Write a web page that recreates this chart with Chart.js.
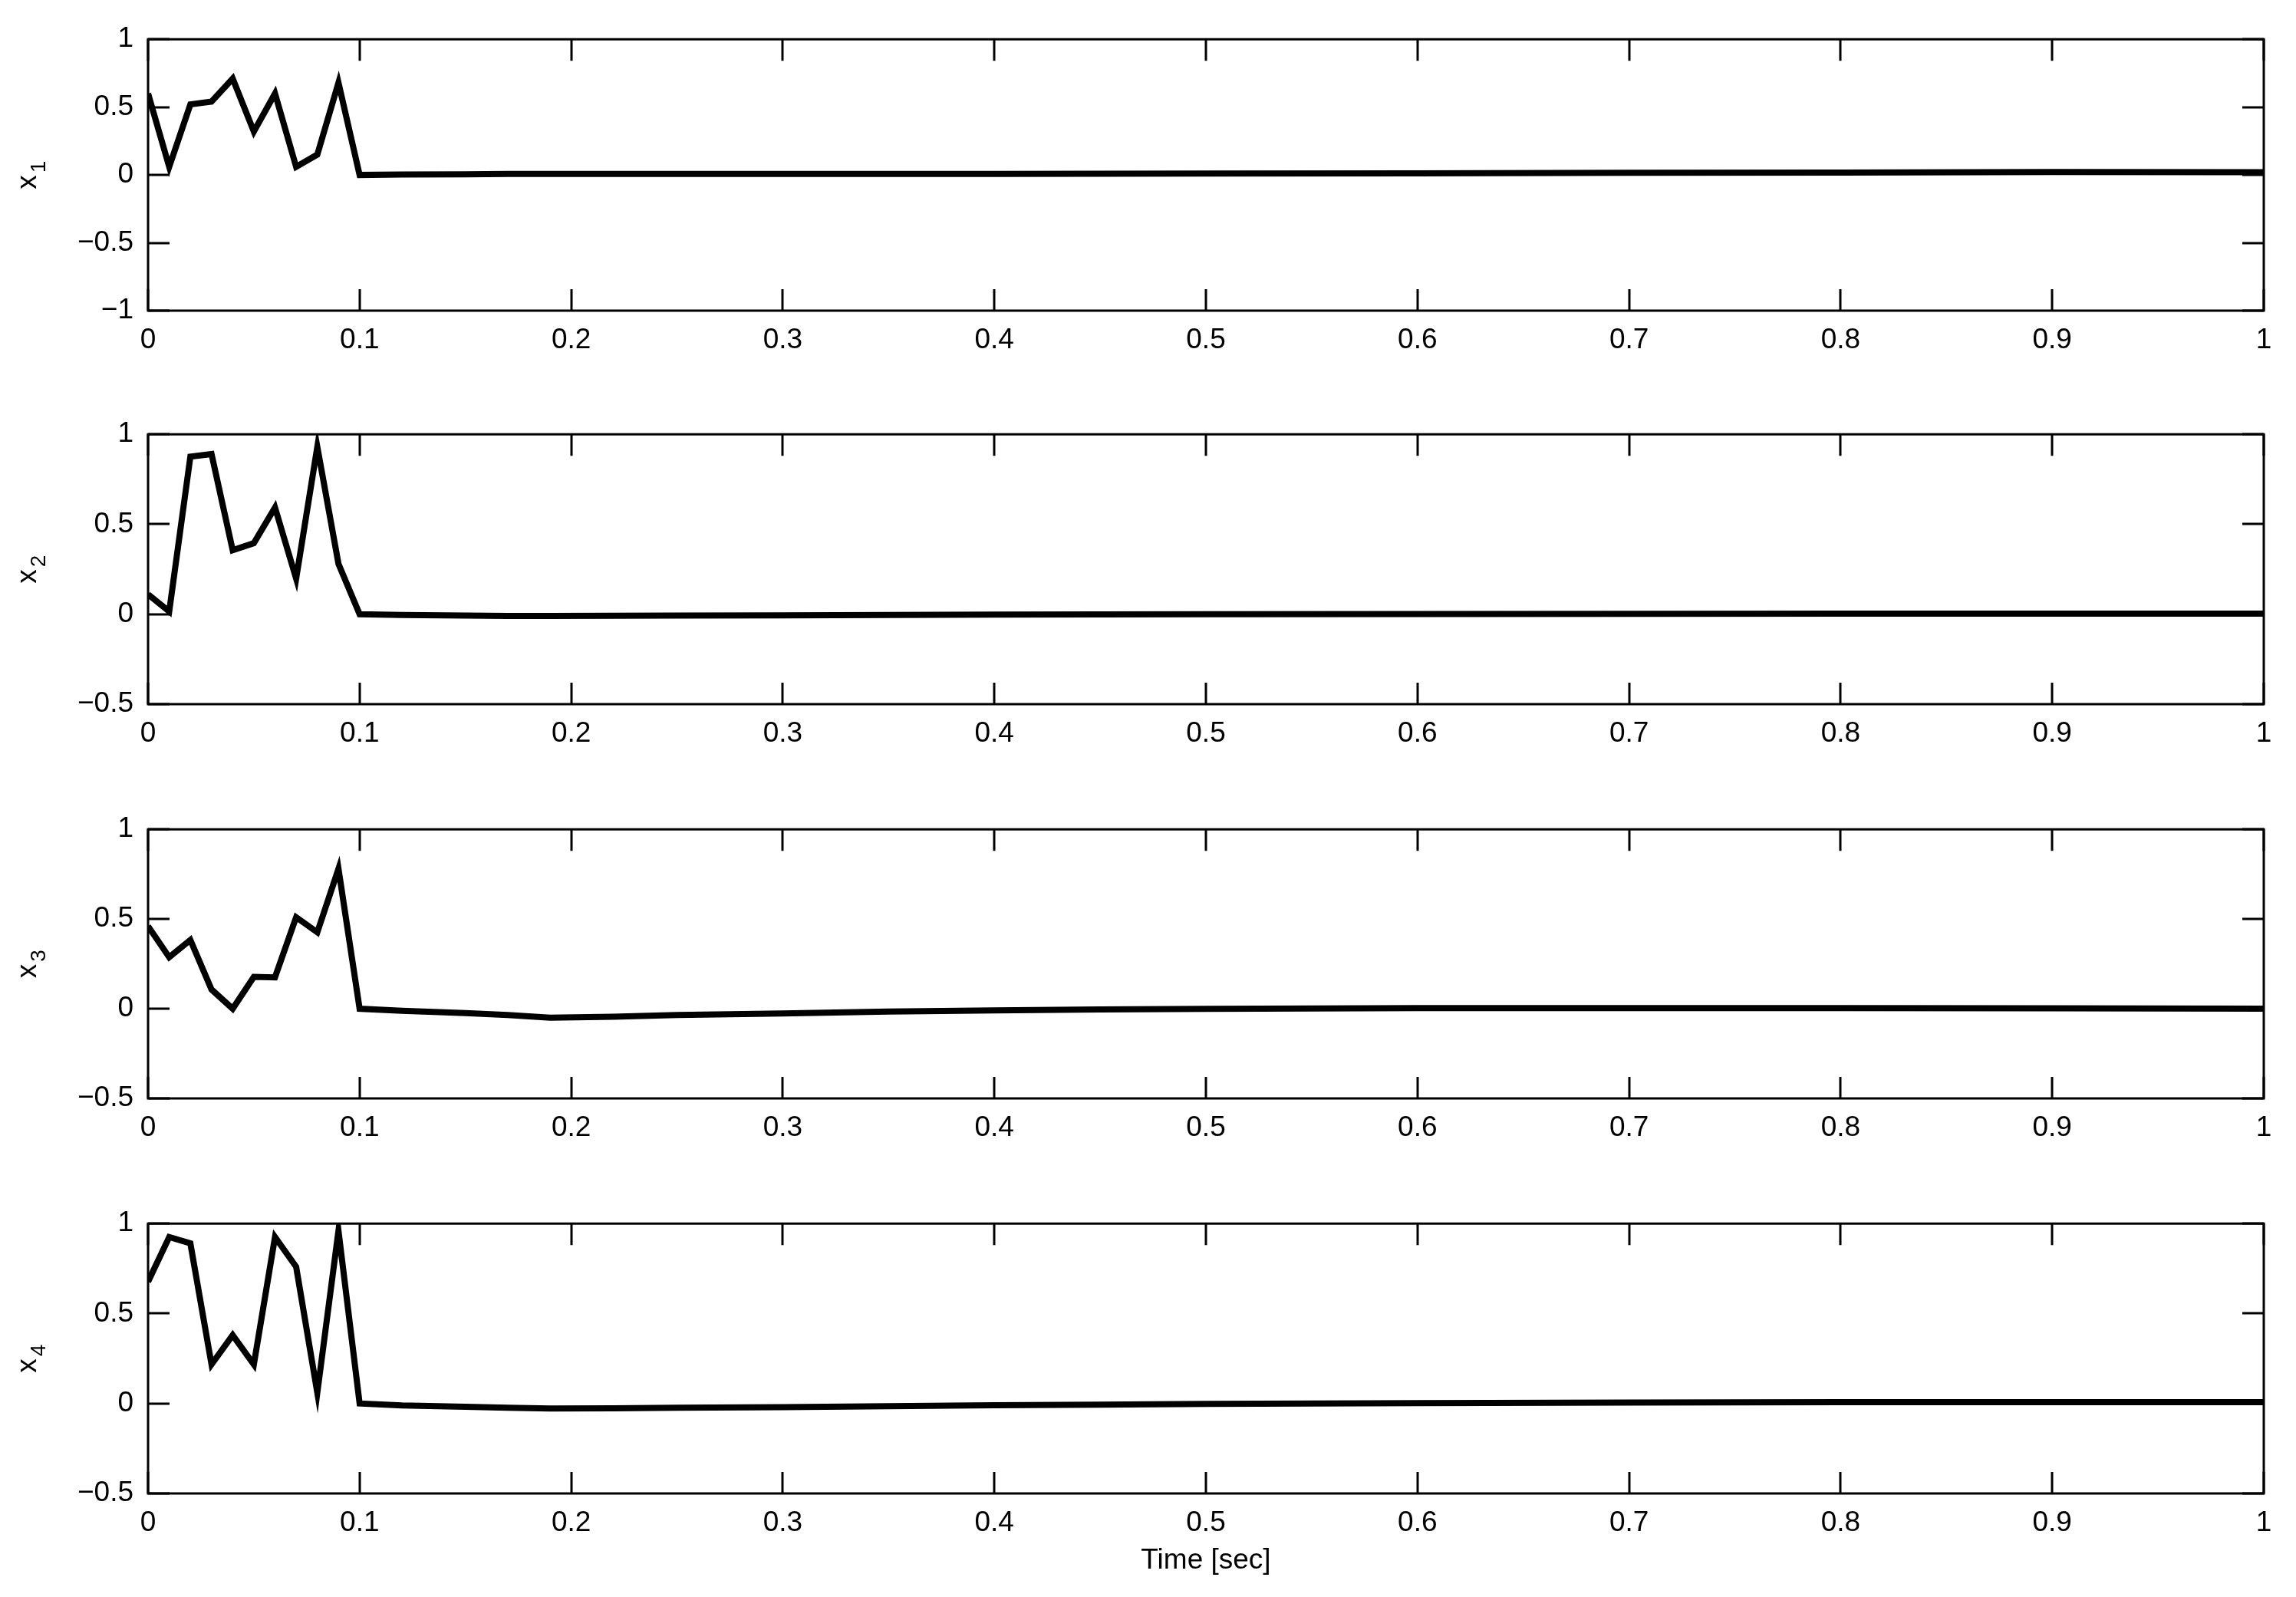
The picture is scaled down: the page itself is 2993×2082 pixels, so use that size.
<!DOCTYPE html>
<html>
<head>
<meta charset="utf-8">
<script src="https://cdn.jsdelivr.net/npm/chart.js@4.4.1/dist/chart.umd.min.js"></script>
<style>
  html, body { margin: 0; padding: 0; background: #fff; }
  body { width: 2993px; height: 2082px; position: relative; overflow: hidden; }
  canvas { position: absolute; left: 0; }
</style>
</head>
<body>
<canvas id="c1"></canvas>
<canvas id="c2"></canvas>
<canvas id="c3"></canvas>
<canvas id="c4"></canvas>
<script>
// ---- data ----
const time = [0, 0.01, 0.02, 0.03, 0.04, 0.05, 0.06, 0.07, 0.08, 0.09, 0.1,
              0.12, 0.15, 0.17, 0.19, 0.22, 0.25, 0.3, 0.35, 0.4, 0.45, 0.5, 0.6, 0.7, 0.8, 0.9, 1.0];
const x1 = [0.60, 0.06, 0.52, 0.54, 0.71, 0.32, 0.60, 0.06, 0.15, 0.68, 0.0,
            0.003, 0.005, 0.007, 0.008, 0.008, 0.008, 0.007, 0.008, 0.008, 0.009, 0.011, 0.012, 0.016, 0.018, 0.022, 0.021];
const x2 = [0.11, 0.015, 0.876, 0.89, 0.356, 0.395, 0.593, 0.198, 0.93, 0.28, 0.0,
            -0.004, -0.008, -0.01, -0.01, -0.009, -0.008, -0.006, -0.004, -0.002, -0.001, 0.0, 0.001, 0.002, 0.003, 0.003, 0.003];
const x3 = [0.46, 0.287, 0.383, 0.107, 0.0, 0.178, 0.175, 0.51, 0.426, 0.78, 0.0,
            -0.011, -0.024, -0.035, -0.05, -0.045, -0.035, -0.026, -0.016, -0.009, -0.004, -0.001, 0.003, 0.004, 0.004, 0.002, 0.0];
const x4 = [0.677, 0.925, 0.89, 0.217, 0.38, 0.217, 0.925, 0.76, 0.06, 0.96, 0.0,
            -0.011, -0.018, -0.024, -0.028, -0.027, -0.024, -0.02, -0.015, -0.01, -0.006, -0.002, 0.002, 0.005, 0.007, 0.007, 0.007];
const seriesNames = ['x', 'x', 'x', 'x'];
const seriesSubs = ['1', '2', '3', '4'];
const yMins = [-1, -0.5, -0.5, -0.5];
const yMaxs = [1, 1, 1, 1];
const xTitle = 'Time [sec]';

// ---- layout ----
const FONT = '"Liberation Sans", Arial, Helvetica, sans-serif';
const FS = 37;
const plotTops = [50, 565, 1080, 1594];
const plotBottoms = [405, 918, 1432, 1947];
const PLOT_LEFT = 193, PLOT_RIGHT = 2951, W = 2993, PADTOP = 40;

const framePlugin = {
  id: 'frame',
  afterDatasetsDraw(chart, args, opts) {
    const { ctx, chartArea: a, scales: { x, y } } = chart;
    ctx.save();
    ctx.strokeStyle = '#000';
    ctx.lineWidth = 3;
    ctx.lineCap = 'butt';
    ctx.strokeRect(a.left, a.top, a.right - a.left, a.bottom - a.top);
    const L = 28;
    ctx.beginPath();
    x.ticks.forEach(t => {
      const px = Math.round(x.getPixelForValue(t.value));
      ctx.moveTo(px, a.bottom); ctx.lineTo(px, a.bottom - L);
      ctx.moveTo(px, a.top); ctx.lineTo(px, a.top + L);
    });
    y.ticks.forEach(t => {
      const py = Math.round(y.getPixelForValue(t.value));
      ctx.moveTo(a.left, py); ctx.lineTo(a.left + L, py);
      ctx.moveTo(a.right, py); ctx.lineTo(a.right - L, py);
    });
    ctx.stroke();
    // y label with subscript
    const cy = (a.top + a.bottom) / 2;
    ctx.translate(42, cy);
    ctx.rotate(-Math.PI / 2);
    ctx.fillStyle = '#000';
    ctx.textBaseline = 'middle';
    ctx.textAlign = 'left';
    ctx.font = FS + 'px ' + FONT;
    const wMain = ctx.measureText(opts.name).width;
    ctx.font = '28px ' + FONT;
    const wSub = ctx.measureText(opts.sub).width;
    const total = wMain + 3 + wSub;
    ctx.font = FS + 'px ' + FONT;
    ctx.fillText(opts.name, -total / 2, -5);
    ctx.font = '28px ' + FONT;
    ctx.fillText(opts.sub, -total / 2 + wMain + 3, 9);
    ctx.restore();
  }
};

const allSeries = [x1, x2, x3, x4];
const fmt = v => String(Math.round(v * 10) / 10).replace('-', '\u2212');

allSeries.forEach((vals, i) => {
  const canvas = document.getElementById('c' + (i + 1));
  const top = plotTops[i] - PADTOP;
  const plotH = plotBottoms[i] - plotTops[i];
  const isLast = i === allSeries.length - 1;
  const H = isLast ? (2066 - top) : (PADTOP + plotH + 78);
  canvas.width = W; canvas.height = H;
  canvas.style.top = top + 'px';
  canvas.style.width = W + 'px'; canvas.style.height = H + 'px';
  const xAxisH = H - PADTOP - plotH;

  new Chart(canvas, {
    type: 'line',
    data: {
      datasets: [{
        data: time.map((t, k) => ({ x: t, y: vals[k] })),
        borderColor: '#000',
        borderWidth: 8,
        pointRadius: 0,
        tension: 0,
        fill: false
      }]
    },
    plugins: [framePlugin],
    options: {
      responsive: false,
      animation: false,
      devicePixelRatio: 1,
      layout: { padding: { top: PADTOP, right: W - PLOT_RIGHT, left: 0, bottom: 0 } },
      plugins: {
        legend: { display: false },
        tooltip: { enabled: false },
        frame: { name: seriesNames[i], sub: seriesSubs[i] }
      },
      scales: {
        x: {
          type: 'linear',
          min: 0, max: 1,
          grid: { display: false, drawTicks: false },
          border: { display: false },
          ticks: {
            stepSize: 0.1,
            padding: 17,
            maxRotation: 0,
            autoSkip: false,
            color: '#000',
            font: { family: FONT, size: FS },
            callback: fmt
          },
          title: {
            display: isLast,
            text: xTitle,
            color: '#000',
            font: { family: FONT, size: FS },
            padding: { top: 0, bottom: 9 }
          },
          afterFit(scale) { scale.height = xAxisH; }
        },
        y: {
          type: 'linear',
          min: yMins[i], max: yMaxs[i],
          grid: { display: false, drawTicks: false },
          border: { display: false },
          ticks: {
            stepSize: 0.5,
            padding: 19,
            color: '#000',
            font: { family: FONT, size: FS },
            callback: fmt
          },
          afterFit(scale) { scale.width = PLOT_LEFT; }
        }
      }
    }
  });
});
</script>
</body>
</html>
